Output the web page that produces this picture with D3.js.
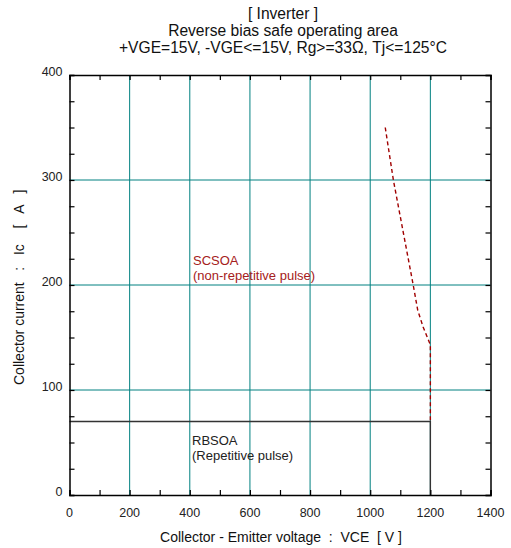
<!DOCTYPE html>
<html>
<head>
<meta charset="utf-8">
<script src="https://cdn.jsdelivr.net/npm/d3@7"></script>
<style>
  body { margin: 0; background: #fff; }
  text { font-family: "Liberation Sans", Arial, sans-serif; white-space: pre; }
</style>
</head>
<body>
<svg id="chart" width="511" height="548"></svg>
<script>
// chart values
const titleLines = ['[ Inverter ]', 'Reverse bias safe operating area', '+VGE=15V, -VGE<=15V, Rg>=33\u03a9, Tj<=125\u00b0C'];
const xTicks = [0, 200, 400, 600, 800, 1000, 1200, 1400];
const yTicks = [0, 100, 200, 300, 400];
const xGrid = [200, 400, 600, 800, 1000, 1200];
const yGrid = [100, 200, 300];
const rbsoa = [[0, 70], [1200, 70], [1200, 0]];
const scsoa = [[1050, 350], [1077, 300], [1110, 250], [1143, 200], [1158, 176], [1176, 160], [1200, 143], [1200, 70]];

const svg = d3.select('#chart');
const margin = {left: 69.5, right: 20.5, top: 75, bottom: 53};
const W = 511, H = 548;

const x = d3.scaleLinear().domain([0, 1400]).range([margin.left, W - margin.right]);
const y = d3.scaleLinear().domain([0, 400]).range([H - margin.bottom, margin.top]);

// title
svg.selectAll('.title')
    .data(titleLines)
    .enter().append('text')
    .attr('class', 'title')
    .attr('x', 283)
    .attr('y', (d, i) => 18.5 + i * 17)
    .attr('text-anchor', 'middle')
    .attr('font-size', 15.6)
    .attr('fill', '#111')
    .text(d => d);

// grid
svg.selectAll('.vgrid')
    .data(xGrid)
    .enter().append('line')
    .attr('x1', d => x(d)).attr('x2', d => x(d))
    .attr('y1', y(0)).attr('y2', y(400))
    .attr('stroke', '#008080').attr('stroke-width', 1);

svg.selectAll('.hgrid')
    .data(yGrid)
    .enter().append('line')
    .attr('x1', x(0)).attr('x2', x(1400))
    .attr('y1', d => y(d)).attr('y2', d => y(d))
    .attr('stroke', '#008080').attr('stroke-width', 1);

// curves
const line = d3.line().x(d => x(d[0])).y(d => y(d[1]));

svg.append('path')
    .datum(rbsoa)
    .attr('d', line)
    .attr('fill', 'none')
    .attr('stroke', '#333')
    .attr('stroke-width', 1.4);

svg.append('path')
    .datum(scsoa)
    .attr('d', line)
    .attr('fill', 'none')
    .attr('stroke', '#a00000')
    .attr('stroke-width', 1.4)
    .attr('stroke-dasharray', '4,3');

// axes with inner ticks on all sides
const tickLen = 5;
svg.append('g')
    .attr('transform', `translate(0,${y(0)})`)
    .call(d3.axisBottom(x).tickValues(d3.range(0, 1401, 100)).tickSize(-tickLen).tickFormat(''));
svg.append('g')
    .attr('transform', `translate(0,${y(400)})`)
    .call(d3.axisTop(x).tickValues(d3.range(0, 1401, 100)).tickSize(-tickLen).tickFormat(''));
svg.append('g')
    .attr('transform', `translate(${x(0)},0)`)
    .call(d3.axisLeft(y).tickValues(d3.range(0, 401, 25)).tickSize(-tickLen).tickFormat(''));
svg.append('g')
    .attr('transform', `translate(${x(1400)},0)`)
    .call(d3.axisRight(y).tickValues(d3.range(0, 401, 25)).tickSize(-tickLen).tickFormat(''));

svg.selectAll('.domain').attr('stroke', '#000').attr('stroke-width', 1.5);
svg.selectAll('.tick line').attr('stroke', '#000').attr('stroke-width', 1.2);

// tick labels
svg.selectAll('.xlab')
    .data(xTicks)
    .enter().append('text')
    .attr('x', d => x(d))
    .attr('y', y(0) + 22)
    .attr('text-anchor', 'middle')
    .attr('font-size', 12.5)
    .attr('fill', '#222')
    .text(d => d);

svg.selectAll('.ylab')
    .data(yTicks)
    .enter().append('text')
    .attr('x', x(0) - 7)
    .attr('y', d => y(d) + 1)
    .attr('text-anchor', 'end')
    .attr('font-size', 12.5)
    .attr('fill', '#222')
    .text(d => d);

// axis titles
svg.append('text')
    .attr('x', 281)
    .attr('y', 542)
    .attr('text-anchor', 'middle')
    .attr('font-size', 14)
    .attr('fill', '#111')
    .text('Collector - Emitter voltage  :  VCE  [ V ]');

svg.append('text')
    .attr('transform', 'translate(24,385) rotate(-90)')
    .attr('text-anchor', 'start')
    .attr('font-size', 14)
    .attr('fill', '#111')
    .text('Collector current   :   Ic    [   A   ]');

// region labels
const scLabel = svg.append('text')
    .attr('y', 265)
    .attr('font-size', 13)
    .attr('fill', '#a52020');
scLabel.append('tspan').attr('x', 193).text('SCSOA');
scLabel.append('tspan').attr('x', 193).attr('dy', 15).text('(non-repetitive pulse)');

const rbLabel = svg.append('text')
    .attr('y', 445)
    .attr('font-size', 13)
    .attr('fill', '#222');
rbLabel.append('tspan').attr('x', 192).text('RBSOA');
rbLabel.append('tspan').attr('x', 192).attr('dy', 15).text('(Repetitive pulse)');
</script>
</body>
</html>
